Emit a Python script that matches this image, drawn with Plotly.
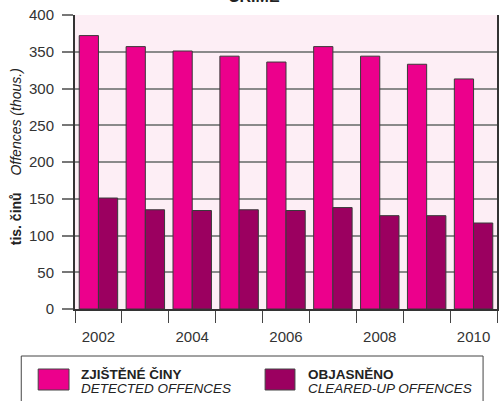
import plotly.graph_objects as go

years = [2002, 2003, 2004, 2005, 2006, 2007, 2008, 2009, 2010]
detected = [372, 357, 351, 344, 336, 357, 344, 333, 313]
cleared = [151, 135, 134, 135, 134, 138, 127, 127, 117]
series_cz = ["ZJIŠTĚNÉ ČINY", "OBJASNĚNO"]
series_en = ["DETECTED OFFENCES", "CLEARED-UP OFFENCES"]
colors = ["#EC008C", "#9B0060"]
xtick_vals = [2002, 2004, 2006, 2008, 2010]
boundaries = [y + 0.5 for y in [2001] + years]
ytick_vals = [0, 50, 100, 150, 200, 250, 300, 350, 400]

FONT = "Liberation Sans, Arial, sans-serif"

fig = go.Figure()
for vals, name, col in zip([detected, cleared], series_en, colors):
    fig.add_trace(go.Bar(x=years, y=vals, name=name, marker=dict(color=col, line=dict(color="#3a3a3a", width=1)),
                         showlegend=False))

W, H = 500, 401
ml, mr, mt, mb = 75, 1, 15, 92
pw, ph = W - ml - mr, H - mt - mb

def px(x):
    return (x - ml) / pw

def py(y):
    return 1 - (y - mt) / ph

shapes = []
annotations = []
# legend box
shapes.append(dict(type="rect", xref="paper", yref="paper", x0=px(21), x1=px(485), y0=py(410), y1=py(356),
                   line=dict(color="#444", width=1), fillcolor="white", layer="above"))
leg = [(38, 69, 79), (266, 296, 307)]
for (x0, x1, tx), col, cz, en in zip(leg, colors, series_cz, series_en):
    shapes.append(dict(type="rect", xref="paper", yref="paper", x0=px(x0), x1=px(x1), y0=py(390), y1=py(369),
                       line=dict(color="#444", width=1), fillcolor=col, layer="above"))
    annotations.append(dict(xref="paper", yref="paper", x=px(tx), y=py(374), xanchor="left", yanchor="middle",
                            text=f"<b>{cz}</b>", showarrow=False, font=dict(family=FONT, size=13.5, color="#222")))
    annotations.append(dict(xref="paper", yref="paper", x=px(tx), y=py(388), xanchor="left", yanchor="middle",
                            text=f"<i>{en}</i>", showarrow=False, font=dict(family=FONT, size=13.5, color="#222")))

# y title
annotations.append(dict(xref="paper", yref="paper", x=px(16), y=py(157), xanchor="center", yanchor="middle",
                        text="<b>tis. činů</b>\u2002\u2002\u2009<i>Offences (thous.)</i>", textangle=-90, showarrow=False,
                        font=dict(family=FONT, size=14, color="#222")))
# title (cut off at top)
annotations.append(dict(xref="paper", yref="paper", x=px(255), y=py(7), xanchor="center", yanchor="bottom",
                        text="<b>CRIME</b>", showarrow=False, font=dict(family=FONT, size=16, color="#222")))

fig.update_layout(
    width=W, height=H, margin=dict(l=ml, r=mr, t=mt, b=mb),
    paper_bgcolor="white", plot_bgcolor="#FDEEF5",
    barmode="group", bargap=0.18, bargroupgap=0,
    font=dict(family=FONT, size=14, color="#333"),
    shapes=shapes, annotations=annotations,
    xaxis=dict(range=[2001.5, 2010.5], tickvals=xtick_vals, ticktext=[str(v) for v in xtick_vals],
               ticks="outside", ticklen=13, tickcolor="rgba(0,0,0,0)", showgrid=False,
               showline=True, linecolor="#333", linewidth=2, mirror=False, zeroline=False,
               minor=dict(tickvals=boundaries, ticks="outside", ticklen=12, tickcolor="#444", tickwidth=1, showgrid=False),
               tickfont=dict(size=15, color="#333")),
    yaxis=dict(range=[0, 400], tickvals=ytick_vals, ticks="outside", ticklen=11, tickcolor="#777", tickwidth=2,
               showgrid=True, gridcolor="#8a8a8a", gridwidth=2, showline=True, linecolor="#333", linewidth=2,
               mirror=True, zeroline=False, tickfont=dict(size=15, color="#333"), ticklabelstandoff=5),
)

fig.write_html("out.html", config={"displayModeBar": False},
               post_script="document.body.style.margin='0';document.body.style.overflow='hidden';")
